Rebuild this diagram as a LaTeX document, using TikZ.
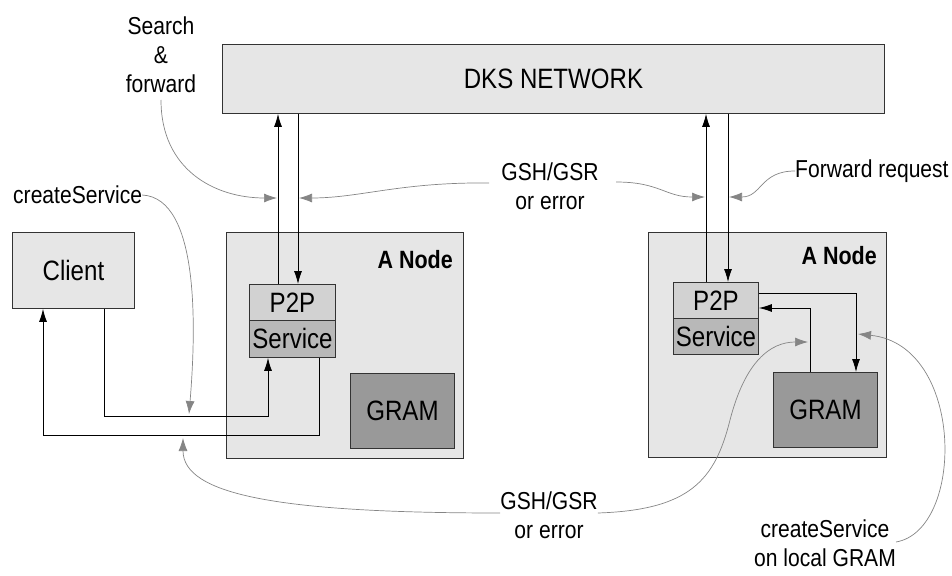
\documentclass[tikz,border=0pt]{standalone}
\usepackage{fontspec}
\setmainfont[FakeStretch=0.86]{Liberation Sans}
\usetikzlibrary{arrows.meta,calc}

\definecolor{boxfill}{HTML}{E6E6E6}
\definecolor{p2pfill}{HTML}{D2D2D2}
\definecolor{svcfill}{HTML}{B8B8B8}
\definecolor{gramfill}{HTML}{999999}
\definecolor{edge}{HTML}{333333}
\definecolor{note}{HTML}{858585}

\tikzset{
  x=1pt, y=-1pt,
  every node/.style={font=\fontsize{28}{32}\selectfont, inner sep=0pt},
  box/.style={draw=edge, line width=0.9pt, anchor=north west},
  lbl/.style={align=center, font=\fontsize{24.5}{29}\selectfont},
  title/.style={anchor=east, font=\fontsize{25}{28}\selectfont\bfseries},
  blk/.style={draw=black, line width=0.8pt, -{Latex[length=13pt,width=8pt]}},
  garrow/.style={draw=note, line width=0.7pt, -{Latex[length=13pt,width=9pt,fill=note]}},
}

\begin{document}
\begin{tikzpicture}
\useasboundingbox (0,0) rectangle (952,575);

% network
\node[box, fill=boxfill, minimum width=662pt, minimum height=69pt] (dks) at (222,44) {};
\node at (dks.center) {DKS NETWORK};

% client
\node[box, fill=boxfill, minimum width=122pt, minimum height=76pt] (client) at (12,232) {};
\node at (client.center) {Client};

% left node
\node[box, fill=boxfill, minimum width=237pt, minimum height=226pt] (nodeL) at (226,232) {};
\node[title] (titleL) at (453,260) {A Node};
\node[box, fill=p2pfill, minimum width=86pt, minimum height=36pt] (p2pL) at (249,284) {};
\node at (p2pL.center) {P2P};
\node[box, fill=svcfill, minimum width=86pt, minimum height=37pt] (svcL) at (249,320) {};
\node at (svcL.center) {Service};
\node[box, fill=gramfill, minimum width=104pt, minimum height=75pt] (gramL) at (350,373) {};
\node at (gramL.center) {GRAM};

% right node
\node[box, fill=boxfill, minimum width=238pt, minimum height=225pt] (nodeR) at (648,232) {};
\node[title] (titleR) at (877,256) {A Node};
\node[box, fill=p2pfill, minimum width=85pt, minimum height=36pt] (p2pR) at (673,282) {};
\node at (p2pR.center) {P2P};
\node[box, fill=svcfill, minimum width=85pt, minimum height=36pt] (svcR) at (673,318) {};
\node at (svcR.center) {Service};
\node[box, fill=gramfill, minimum width=104pt, minimum height=75pt] (gramR) at (773,372) {};
\node at (gramR.center) {GRAM};

% labels
\node[lbl] (srch) at (161,55) {Search\\\&\\forward};
\node[lbl] (gshT) at (550,186) {GSH/GSR\\or error};
\node[lbl, anchor=west] (fwd) at (795,171) {Forward request};
\node[lbl, anchor=west] (csT) at (13,195) {createService};
\node[lbl] (gshB) at (549,515) {GSH/GSR\\or error};
\node[lbl] (csB) at (825,543) {createService\\on local GRAM};

% links to the network
\draw[blk] (p2pL.north -| 278,0) -- (dks.south -| 278,0);
\draw[blk] (dks.south -| 298,0) -- (p2pL.north -| 298,0);
\draw[blk] (p2pR.north -| 706,0) -- (dks.south -| 706,0);
\draw[blk] (dks.south -| 728,0) -- (p2pR.north -| 728,0);

% client to service and back
\draw[blk] (client.south -| 104,0) |- (268,416) -- (svcL.south -| 268,0);
\draw[blk] (svcL.south -| 319,0) |- (43,435) -- (client.south -| 43,0);

% service to GRAM and back
\draw[blk] (p2pR.east |- 0,293) -| (gramR.north -| 856,0);
\draw[blk] (gramR.north -| 810,0) |- (p2pR.east |- 0,308);

% annotations
\draw[garrow] (161,100) .. controls (161,170) and (215,198) .. (277,198);
\draw[garrow] (489,183) .. controls (400,182) and (360,198) .. (299,198);
\draw[garrow] (616,182) .. controls (660,182) and (665,197) .. (705,197);
\draw[garrow] (fwd.west) .. controls (760,171) and (762,197) .. (729,197);
\draw[garrow] (csT.east) .. controls (200,198) and (196,330) .. (189,414);
\draw[garrow] (gshB.west |- 0,513) .. controls (280,513) and (183,495) .. (183,438);
\draw[garrow] (gshB.east |- 0,513) .. controls (690,510) and (715,480) .. (730,420)
  .. controls (745,362) and (770,342) .. (808,342);
\draw[garrow] (csB.east |- 0,542) .. controls (965,530) and (965,345) .. (858,334);
\end{tikzpicture}
\end{document}
